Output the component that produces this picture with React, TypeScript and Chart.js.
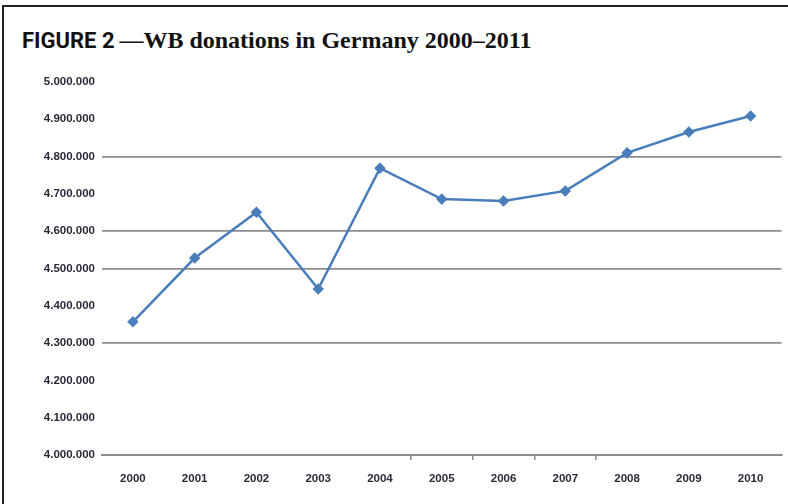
import React, { useEffect, useRef } from "react";
import { Chart, registerables } from "chart.js";

Chart.register(...registerables);

const years = ["2000", "2001", "2002", "2003", "2004", "2005", "2006", "2007", "2008", "2009", "2010"];
const donations = [4357000, 4528000, 4651000, 4445000, 4769000, 4686000, 4681000, 4708000, 4810000, 4866000, 4909000];
const yMin = 4000000;
const yMax = 5000000;
const yStep = 100000;
const visibleGridValues = [4800000, 4600000, 4500000, 4300000];
const visibleXTickIndexes = [5, 6, 7, 8];

const fmt = (v: number) => String(Math.round(v)).replace(/\B(?=(\d{3})+(?!\d))/g, ".");

export default function App() {
  const ref = useRef<HTMLCanvasElement | null>(null);

  useEffect(() => {
    document.body.style.margin = "0";
    if (!ref.current) return;
    const gridGrey = "#8c8c8c";
    const tickFont = { family: "'Liberation Sans', Arial, sans-serif", size: 11.5, weight: "bold" as const };
    const chart = new Chart(ref.current, {
      type: "line",
      data: {
        labels: years,
        datasets: [
          {
            data: donations,
            borderColor: "#4a7ebb",
            backgroundColor: "#4a7ebb",
            borderWidth: 2.5,
            pointStyle: "rectRot",
            pointRadius: 4,
            pointBackgroundColor: "#4a7ebb",
            pointBorderColor: "#4a7ebb",
            tension: 0,
          },
        ],
      },
      options: {
        animation: false,
        responsive: false,
        maintainAspectRatio: false,
        layout: { padding: { top: 22, right: 6, bottom: 0, left: 0 } },
        plugins: { legend: { display: false }, tooltip: { enabled: false }, title: { display: false } },
        scales: {
          x: {
            type: "category",
            offset: true,
            border: { display: true, color: gridGrey, width: 2 },
            grid: {
              offset: true,
              drawOnChartArea: false,
              drawTicks: true,
              tickLength: 5,
              lineWidth: 1.5,
              color: (ctx: any) => (visibleXTickIndexes.includes(ctx.index) ? gridGrey : "rgba(0,0,0,0)"),
            },
            ticks: {
              padding: 12,
              color: "#2a2a3a",
              font: tickFont,
              maxRotation: 0,
              autoSkip: false,
            },
            afterFit: (scale: any) => {
              scale.height = 49;
            },
          },
          y: {
            min: yMin,
            max: yMax,
            border: { display: false },
            grid: {
              drawTicks: false,
              lineWidth: 1.8,
              color: (ctx: any) =>
                ctx.tick && visibleGridValues.includes(ctx.tick.value) ? gridGrey : "rgba(0,0,0,0)",
            },
            ticks: {
              stepSize: yStep,
              padding: 7,
              color: "#2a2a3a",
              font: tickFont,
              callback: (v: any) => fmt(Number(v)),
            },
            afterFit: (scale: any) => {
              scale.width = 102;
            },
          },
        },
      },
    });
    return () => chart.destroy();
  }, []);

  return (
    <div style={{ position: "absolute", left: 0, top: 0, width: 788, height: 504, background: "#fff", overflow: "hidden" }}>
      <div
        style={{
          position: "absolute",
          left: 2,
          top: 5,
          width: 784,
          height: 510,
          borderLeft: "2px solid #222",
          borderTop: "2px solid #222",
        }}
      />
      <div
        style={{
          position: "absolute",
          left: 22,
          top: 27,
          whiteSpace: "nowrap",
          lineHeight: "26px",
          color: "#111",
        }}
      >
        <span style={{ fontFamily: "Roboto, 'Liberation Sans', sans-serif", fontWeight: 700, fontSize: 22 }}>FIGURE 2</span>
        <span style={{ fontFamily: "'Liberation Serif', 'DejaVu Serif', serif", fontWeight: 700, fontSize: 24 }}>
          {"\u2009\u2014WB donations in Germany 2000\u20132011"}
        </span>
      </div>
      <canvas ref={ref} width={788} height={444} style={{ position: "absolute", left: 0, top: 60, width: 788, height: 444 }} />
    </div>
  );
}
